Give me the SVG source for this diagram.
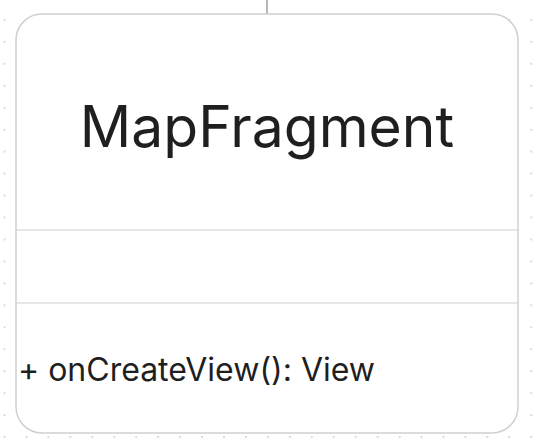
<svg xmlns="http://www.w3.org/2000/svg" width="533" height="439" viewBox="0 0 533 439">
<defs>
<pattern id="dots" x="3.5" y="-3" width="21.95" height="21.95" patternUnits="userSpaceOnUse">
<circle cx="1" cy="1" r="1" fill="#d0d0d0"/>
</pattern>
<style>
.box{fill:#fff;stroke:#d0d0d0;stroke-width:1.5}
.div{stroke:#d0d0d0;stroke-width:1.2}
.conn{stroke:#a0a0a0;stroke-width:1.5;fill:none}
.title{font-family:Inter,"Liberation Sans",sans-serif;font-size:57px;fill:#1f1f1f}
.member{font-family:Inter,"Liberation Sans",sans-serif;font-size:32px;fill:#1f1f1f}
</style>
</defs>
<rect width="533" height="439" fill="#fff"/>
<rect width="533" height="439" fill="url(#dots)"/>
<g id="connectors">
<line class="conn" x1="267" y1="0" x2="267" y2="14"/>
</g>
<g id="MapFragment">
<rect class="box" x="16" y="14" width="502" height="419" rx="26" ry="26"/>
<line class="div" x1="16" y1="230" x2="518" y2="230"/>
<line class="div" x1="16" y1="303" x2="518" y2="303"/>
<text class="title" x="267" y="147" text-anchor="middle">MapFragment</text>
<text class="member" x="18" y="381">+ onCreateView(): View</text>
</g>
</svg>
